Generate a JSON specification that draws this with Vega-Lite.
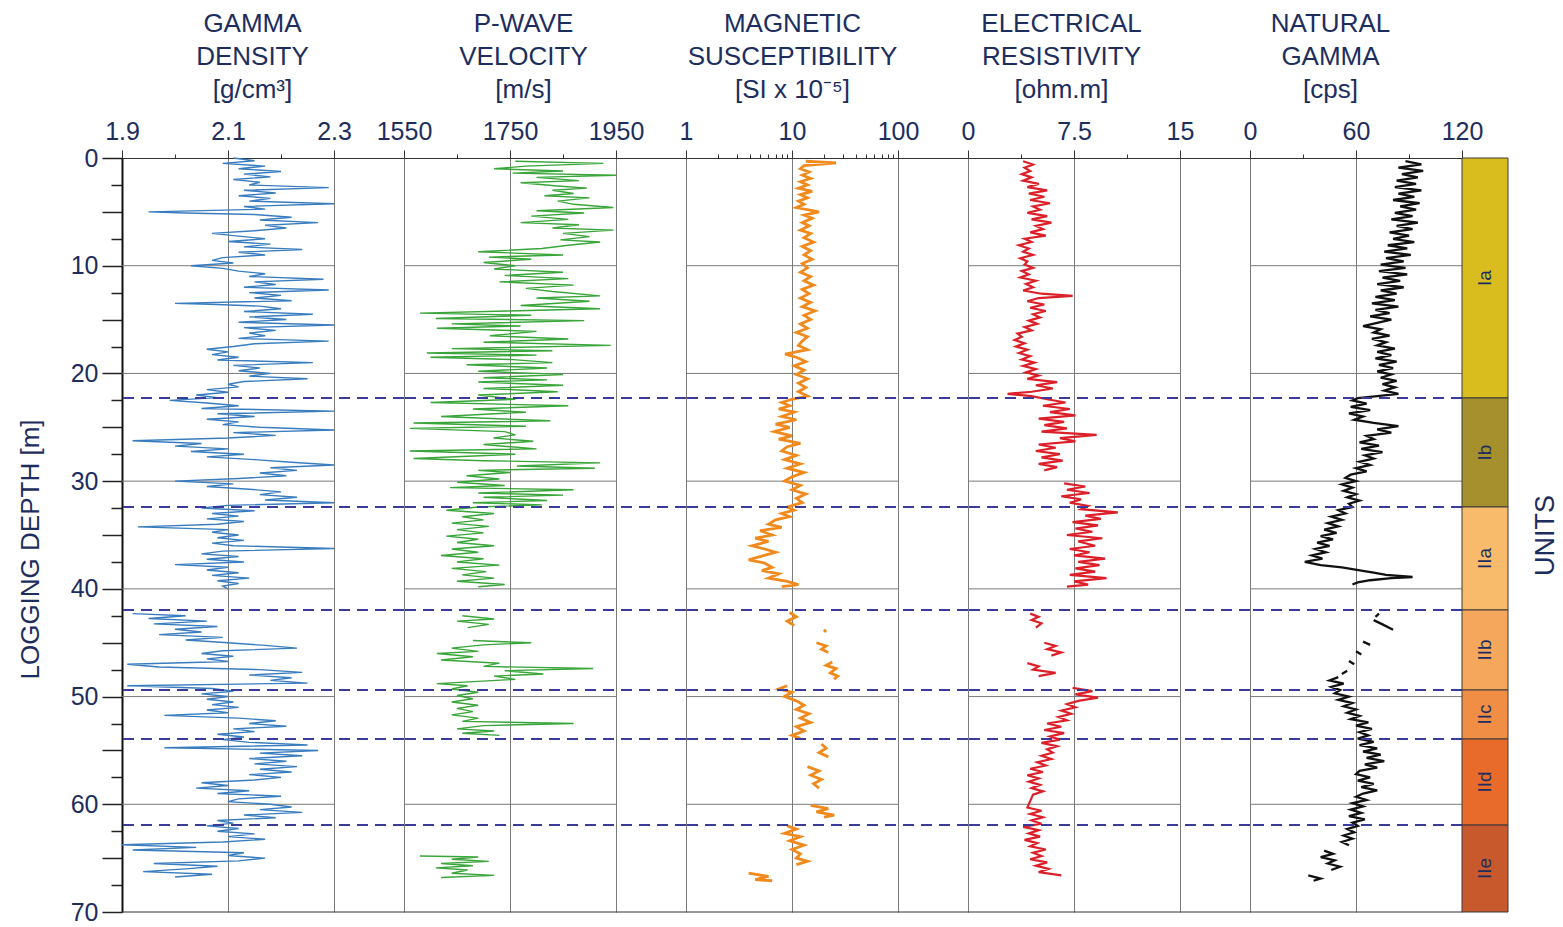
{
"$schema": "https://vega.github.io/schema/vega-lite/v6.json",
"background": "#ffffff",
"padding": {"left": 17, "top": 10, "right": 5, "bottom": 5},
"bounds": "flush",
"spacing": 0,
"config": {"view": {"stroke": null}, "font": "Liberation Sans", "axis": {"labelFont": "Liberation Sans", "titleFont": "Liberation Sans"}},
"resolve": {"scale": {"x": "independent", "y": "independent"}, "axis": {"x": "independent", "y": "independent"}},
"datasets": {
"grid": [{"d":10},{"d":20},{"d":30},{"d":40},{"d":50},{"d":60}],
"edge": [{"d":70}],
"bounds": [{"d":22.28},{"d":32.4},{"d":41.96},{"d":49.39},{"d":53.94},{"d":61.93}],
"units": [{"u":"Ia","t":0,"b":22.28},{"u":"Ib","t":22.28,"b":32.4},{"u":"IIa","t":32.4,"b":41.96},{"u":"IIb","t":41.96,"b":49.39},{"u":"IIc","t":49.39,"b":53.94},{"u":"IId","t":53.94,"b":61.93},{"u":"IIe","t":61.93,"b":70}],
"gd": [
{"d":0,"v":2.11,"s":1},{"d":0.25,"v":2.15,"s":1},{"d":0.5,"v":2.09,"s":1},{"d":0.75,"v":2.17,"s":1},{"d":1,"v":2.12,"s":1},{"d":1.25,"v":2.2,"s":1},{"d":1.5,"v":2.13,"s":1},{"d":1.75,"v":2.18,"s":1},{"d":2,"v":2.11,"s":1},{"d":2.25,"v":2.16,"s":1},{"d":2.5,"v":2.14,"s":1},{"d":2.75,"v":2.29,"s":1},{"d":3,"v":2.13,"s":1},{"d":3.25,"v":2.19,"s":1},{"d":3.5,"v":2.12,"s":1},{"d":3.75,"v":2.18,"s":1},{"d":4,"v":2.14,"s":1},{"d":4.25,"v":2.3,"s":1},{"d":4.5,"v":2.13,"s":1},{"d":4.75,"v":2.17,"s":1},{"d":5,"v":1.95,"s":1},{"d":5.1,"v":2.02,"s":1},{"d":5.25,"v":2.15,"s":1},{"d":5.5,"v":2.22,"s":1},{"d":5.75,"v":2.16,"s":1},{"d":6,"v":2.27,"s":1},{"d":6.25,"v":2.17,"s":1},{"d":6.5,"v":2.21,"s":1},{"d":6.75,"v":2.15,"s":1},{"d":7,"v":2.07,"s":1},{"d":7.25,"v":2.12,"s":1},{"d":7.5,"v":2.17,"s":1},{"d":7.75,"v":2.1,"s":1},{"d":8,"v":2.18,"s":1},{"d":8.25,"v":2.13,"s":1},{"d":8.5,"v":2.24,"s":1},{"d":8.75,"v":2.12,"s":1},{"d":9,"v":2.17,"s":1},{"d":9.25,"v":2.09,"s":1},{"d":9.5,"v":2.07,"s":1},{"d":9.75,"v":2.11,"s":1},{"d":10,"v":2.03,"s":1},{"d":10.25,"v":2.09,"s":1},{"d":10.5,"v":2.12,"s":1},{"d":10.75,"v":2.17,"s":1},{"d":11,"v":2.14,"s":1},{"d":11.25,"v":2.28,"s":1},{"d":11.5,"v":2.15,"s":1},{"d":11.75,"v":2.19,"s":1},{"d":12,"v":2.13,"s":1},{"d":12.25,"v":2.29,"s":1},{"d":12.5,"v":2.14,"s":1},{"d":12.75,"v":2.2,"s":1},{"d":13,"v":2.15,"s":1},{"d":13.25,"v":2.22,"s":1},{"d":13.5,"v":2.0,"s":1},{"d":13.6,"v":2.08,"s":1},{"d":13.75,"v":2.16,"s":1},{"d":14,"v":2.2,"s":1},{"d":14.25,"v":2.13,"s":1},{"d":14.5,"v":2.26,"s":1},{"d":14.75,"v":2.14,"s":1},{"d":15,"v":2.21,"s":1},{"d":15.25,"v":2.12,"s":1},{"d":15.5,"v":2.3,"s":1},{"d":15.75,"v":2.13,"s":1},{"d":16,"v":2.19,"s":1},{"d":16.25,"v":2.14,"s":1},{"d":16.5,"v":2.17,"s":1},{"d":16.75,"v":2.12,"s":1},{"d":17,"v":2.29,"s":1},{"d":17.25,"v":2.15,"s":1},{"d":17.5,"v":2.11,"s":1},{"d":17.75,"v":2.06,"s":1},{"d":18,"v":2.1,"s":1},{"d":18.25,"v":2.07,"s":1},{"d":18.5,"v":2.12,"s":1},{"d":18.75,"v":2.08,"s":1},{"d":19,"v":2.26,"s":1},{"d":19.25,"v":2.11,"s":1},{"d":19.5,"v":2.16,"s":1},{"d":19.75,"v":2.12,"s":1},{"d":20,"v":2.18,"s":1},{"d":20.25,"v":2.14,"s":1},{"d":20.5,"v":2.25,"s":1},{"d":20.75,"v":2.13,"s":1},{"d":21,"v":2.1,"s":1},{"d":21.25,"v":2.12,"s":1},{"d":21.5,"v":2.06,"s":1},{"d":21.75,"v":2.1,"s":1},{"d":22,"v":2.04,"s":1},{"d":22.25,"v":2.08,"s":1},{"d":22.5,"v":1.99,"s":1},{"d":22.75,"v":2.06,"s":1},{"d":23,"v":2.12,"s":1},{"d":23.25,"v":2.05,"s":1},{"d":23.5,"v":2.3,"s":1},{"d":23.75,"v":2.08,"s":1},{"d":24,"v":2.15,"s":1},{"d":24.25,"v":2.06,"s":1},{"d":24.5,"v":2.12,"s":1},{"d":24.75,"v":2.09,"s":1},{"d":25,"v":2.16,"s":1},{"d":25.25,"v":2.3,"s":1},{"d":25.5,"v":2.11,"s":1},{"d":25.75,"v":2.19,"s":1},{"d":26,"v":2.1,"s":1},{"d":26.25,"v":1.92,"s":1},{"d":26.5,"v":2.05,"s":1},{"d":26.75,"v":2.0,"s":1},{"d":27,"v":2.1,"s":1},{"d":27.25,"v":2.03,"s":1},{"d":27.5,"v":2.13,"s":1},{"d":27.75,"v":2.06,"s":1},{"d":28,"v":2.15,"s":1},{"d":28.25,"v":2.22,"s":1},{"d":28.5,"v":2.3,"s":1},{"d":28.75,"v":2.18,"s":1},{"d":29,"v":2.23,"s":1},{"d":29.25,"v":2.16,"s":1},{"d":29.5,"v":2.21,"s":1},{"d":29.75,"v":2.12,"s":1},{"d":30,"v":2.0,"s":1},{"d":30.25,"v":2.11,"s":1},{"d":30.5,"v":2.06,"s":1},{"d":30.75,"v":2.14,"s":1},{"d":31,"v":2.2,"s":1},{"d":31.25,"v":2.16,"s":1},{"d":31.5,"v":2.23,"s":1},{"d":31.75,"v":2.17,"s":1},{"d":32,"v":2.3,"s":1},{"d":32.25,"v":2.1,"s":1},{"d":32.5,"v":2.05,"s":1},{"d":32.75,"v":2.15,"s":1},{"d":33,"v":2.07,"s":1},{"d":33.25,"v":2.12,"s":1},{"d":33.5,"v":2.06,"s":1},{"d":33.75,"v":2.13,"s":1},{"d":34,"v":2.08,"s":1},{"d":34.25,"v":1.93,"s":1},{"d":34.5,"v":2.1,"s":1},{"d":34.75,"v":2.07,"s":1},{"d":35,"v":2.12,"s":1},{"d":35.25,"v":2.08,"s":1},{"d":35.5,"v":2.13,"s":1},{"d":35.75,"v":2.07,"s":1},{"d":36,"v":2.11,"s":1},{"d":36.25,"v":2.3,"s":1},{"d":36.5,"v":2.09,"s":1},{"d":36.75,"v":2.05,"s":1},{"d":37,"v":2.12,"s":1},{"d":37.25,"v":2.06,"s":1},{"d":37.5,"v":2.13,"s":1},{"d":37.75,"v":2.0,"s":1},{"d":38,"v":2.1,"s":1},{"d":38.25,"v":2.06,"s":1},{"d":38.5,"v":2.12,"s":1},{"d":38.75,"v":2.07,"s":1},{"d":39,"v":2.14,"s":1},{"d":39.25,"v":2.08,"s":1},{"d":39.5,"v":2.12,"s":1},{"d":39.75,"v":2.09,"s":1},{"d":40,"v":2.1,"s":1},
{"d":42.3,"v":1.92,"s":2},{"d":42.5,"v":2.02,"s":2},{"d":42.75,"v":1.95,"s":2},{"d":43,"v":2.06,"s":2},{"d":43.25,"v":1.96,"s":2},{"d":43.5,"v":2.08,"s":2},{"d":43.75,"v":2.0,"s":2},{"d":44,"v":2.05,"s":2},{"d":44.25,"v":1.97,"s":2},{"d":44.5,"v":2.09,"s":2},{"d":44.75,"v":2.02,"s":2},{"d":45,"v":2.1,"s":2},{"d":45.25,"v":2.17,"s":2},{"d":45.5,"v":2.23,"s":2},{"d":45.75,"v":2.09,"s":2},{"d":46,"v":2.05,"s":2},{"d":46.25,"v":2.11,"s":2},{"d":46.5,"v":2.06,"s":2},{"d":46.75,"v":2.1,"s":2},{"d":47,"v":1.91,"s":2},{"d":47.25,"v":1.97,"s":2},{"d":47.5,"v":2.16,"s":2},{"d":47.75,"v":2.24,"s":2},{"d":48,"v":2.14,"s":2},{"d":48.25,"v":2.22,"s":2},{"d":48.5,"v":2.18,"s":2},{"d":48.75,"v":2.25,"s":2},{"d":49,"v":1.91,"s":2},{"d":49.25,"v":2.07,"s":2},{"d":49.5,"v":2.11,"s":2},{"d":49.75,"v":2.05,"s":2},{"d":50,"v":2.1,"s":2},{"d":50.25,"v":2.06,"s":2},{"d":50.5,"v":2.11,"s":2},{"d":50.75,"v":2.07,"s":2},{"d":51,"v":2.12,"s":2},{"d":51.25,"v":2.06,"s":2},{"d":51.5,"v":2.1,"s":2},{"d":51.75,"v":1.98,"s":2},{"d":52,"v":2.12,"s":2},{"d":52.25,"v":2.19,"s":2},{"d":52.5,"v":2.14,"s":2},{"d":52.75,"v":2.21,"s":2},{"d":53,"v":2.11,"s":2},{"d":53.25,"v":2.15,"s":2},{"d":53.5,"v":2.08,"s":2},{"d":53.75,"v":2.13,"s":2},{"d":54,"v":2.09,"s":2},{"d":54.25,"v":2.14,"s":2},{"d":54.5,"v":2.25,"s":2},{"d":54.75,"v":1.98,"s":2},{"d":55,"v":2.27,"s":2},{"d":55.25,"v":2.16,"s":2},{"d":55.5,"v":2.24,"s":2},{"d":55.75,"v":2.14,"s":2},{"d":56,"v":2.21,"s":2},{"d":56.25,"v":2.15,"s":2},{"d":56.5,"v":2.23,"s":2},{"d":56.75,"v":2.16,"s":2},{"d":57,"v":2.22,"s":2},{"d":57.25,"v":2.14,"s":2},{"d":57.5,"v":2.2,"s":2},{"d":57.75,"v":2.15,"s":2},{"d":58,"v":2.05,"s":2},{"d":58.25,"v":2.1,"s":2},{"d":58.5,"v":2.04,"s":2},{"d":58.75,"v":2.14,"s":2},{"d":59,"v":2.08,"s":2},{"d":59.25,"v":2.2,"s":2},{"d":59.5,"v":2.12,"s":2},{"d":59.75,"v":2.1,"s":2},{"d":60,"v":2.18,"s":2},{"d":60.25,"v":2.22,"s":2},{"d":60.5,"v":2.16,"s":2},{"d":60.75,"v":2.24,"s":2},{"d":61,"v":2.13,"s":2},{"d":61.25,"v":2.19,"s":2},{"d":61.5,"v":2.08,"s":2},{"d":61.75,"v":2.11,"s":2},{"d":62,"v":2.06,"s":2},{"d":62.25,"v":2.12,"s":2},{"d":62.5,"v":2.08,"s":2},{"d":62.75,"v":2.15,"s":2},{"d":63,"v":2.1,"s":2},{"d":63.25,"v":2.17,"s":2},{"d":63.5,"v":2.09,"s":2},{"d":63.75,"v":1.9,"s":2},{"d":64,"v":2.04,"s":2},{"d":64.25,"v":1.92,"s":2},{"d":64.5,"v":2.13,"s":2},{"d":64.75,"v":2.1,"s":2},{"d":65,"v":2.17,"s":2},{"d":65.25,"v":2.12,"s":2},{"d":65.5,"v":1.96,"s":2},{"d":65.75,"v":2.08,"s":2},{"d":66,"v":2.02,"s":2},{"d":66.25,"v":1.94,"s":2},{"d":66.5,"v":2.07,"s":2},{"d":66.75,"v":2.0,"s":2}
],
"pw": [
{"d":0.3,"v":1760,"s":1},{"d":0.5,"v":1926,"s":1},{"d":0.75,"v":1780,"s":1},{"d":1.0,"v":1720,"s":1},{"d":1.2,"v":1850,"s":1},{"d":1.4,"v":1755,"s":1},{"d":1.6,"v":1950,"s":1},{"d":1.8,"v":1800,"s":1},{"d":2.1,"v":1880,"s":1},{"d":2.3,"v":1770,"s":1},{"d":2.6,"v":1840,"s":1},{"d":2.8,"v":1895,"s":1},{"d":3.0,"v":1830,"s":1},{"d":3.3,"v":1870,"s":1},{"d":3.5,"v":1815,"s":1},{"d":3.7,"v":1900,"s":1},{"d":4.0,"v":1840,"s":1},{"d":4.3,"v":1870,"s":1},{"d":4.6,"v":1945,"s":1},{"d":4.9,"v":1800,"s":1},{"d":5.1,"v":1890,"s":1},{"d":5.4,"v":1790,"s":1},{"d":5.7,"v":1860,"s":1},{"d":6.0,"v":1770,"s":1},{"d":6.2,"v":1880,"s":1},{"d":6.5,"v":1830,"s":1},{"d":6.7,"v":1945,"s":1},{"d":7.0,"v":1850,"s":1},{"d":7.3,"v":1900,"s":1},{"d":7.6,"v":1845,"s":1},{"d":7.8,"v":1920,"s":1},{"d":8.1,"v":1860,"s":1},{"d":8.4,"v":1810,"s":1},{"d":8.7,"v":1690,"s":1},{"d":9.0,"v":1850,"s":1},{"d":9.2,"v":1710,"s":1},{"d":9.4,"v":1790,"s":1},{"d":9.7,"v":1700,"s":1},{"d":10.0,"v":1760,"s":1},{"d":10.3,"v":1720,"s":1},{"d":10.6,"v":1850,"s":1},{"d":10.9,"v":1740,"s":1},{"d":11.2,"v":1860,"s":1},{"d":11.5,"v":1730,"s":1},{"d":11.8,"v":1870,"s":1},{"d":12.1,"v":1780,"s":1},{"d":12.4,"v":1830,"s":1},{"d":12.8,"v":1920,"s":1},{"d":13.0,"v":1800,"s":1},{"d":13.3,"v":1900,"s":1},{"d":13.7,"v":1770,"s":1},{"d":14.0,"v":1920,"s":1},{"d":14.2,"v":1745,"s":1},{"d":14.4,"v":1580,"s":1},{"d":14.6,"v":1790,"s":1},{"d":14.9,"v":1610,"s":1},{"d":15.1,"v":1890,"s":1},{"d":15.4,"v":1640,"s":1},{"d":15.6,"v":1770,"s":1},{"d":15.8,"v":1612,"s":1},{"d":16.1,"v":1800,"s":1},{"d":16.5,"v":1712,"s":1},{"d":16.8,"v":1860,"s":1},{"d":17.1,"v":1700,"s":1},{"d":17.4,"v":1940,"s":1},{"d":17.7,"v":1640,"s":1},{"d":17.9,"v":1830,"s":1},{"d":18.1,"v":1593,"s":1},{"d":18.3,"v":1800,"s":1},{"d":18.5,"v":1600,"s":1},{"d":18.7,"v":1750,"s":1},{"d":19.0,"v":1830,"s":1},{"d":19.2,"v":1668,"s":1},{"d":19.5,"v":1820,"s":1},{"d":19.8,"v":1690,"s":1},{"d":20.1,"v":1850,"s":1},{"d":20.4,"v":1700,"s":1},{"d":20.6,"v":1820,"s":1},{"d":20.8,"v":1690,"s":1},{"d":21.1,"v":1850,"s":1},{"d":21.4,"v":1700,"s":1},{"d":21.7,"v":1840,"s":1},{"d":22.0,"v":1690,"s":1},{"d":22.4,"v":1760,"s":1},{"d":22.7,"v":1600,"s":1},{"d":23.0,"v":1860,"s":1},{"d":23.3,"v":1680,"s":1},{"d":23.6,"v":1780,"s":1},{"d":24.0,"v":1620,"s":1},{"d":24.4,"v":1826,"s":1},{"d":24.6,"v":1568,"s":1},{"d":24.9,"v":1780,"s":1},{"d":25.1,"v":1561,"s":1},{"d":25.4,"v":1740,"s":1},{"d":25.7,"v":1760,"s":1},{"d":26.0,"v":1719,"s":1},{"d":26.3,"v":1794,"s":1},{"d":26.6,"v":1700,"s":1},{"d":27.0,"v":1800,"s":1},{"d":27.2,"v":1561,"s":1},{"d":27.5,"v":1760,"s":1},{"d":27.9,"v":1568,"s":1},{"d":28.1,"v":1700,"s":1},{"d":28.3,"v":1920,"s":1},{"d":28.6,"v":1763,"s":1},{"d":28.8,"v":1910,"s":1},{"d":29.0,"v":1690,"s":1},{"d":29.2,"v":1750,"s":1},{"d":29.5,"v":1668,"s":1},{"d":29.8,"v":1730,"s":1},{"d":30.1,"v":1650,"s":1},{"d":30.4,"v":1740,"s":1},{"d":30.6,"v":1637,"s":1},{"d":30.8,"v":1870,"s":1},{"d":31.1,"v":1690,"s":1},{"d":31.3,"v":1850,"s":1},{"d":31.5,"v":1700,"s":1},{"d":31.8,"v":1820,"s":1},{"d":32.0,"v":1680,"s":1},{"d":32.2,"v":1810,"s":1},{"d":32.4,"v":1690,"s":1},{"d":32.7,"v":1630,"s":1},{"d":33.0,"v":1720,"s":1},{"d":33.3,"v":1660,"s":1},{"d":33.6,"v":1700,"s":1},{"d":33.9,"v":1640,"s":1},{"d":34.2,"v":1710,"s":1},{"d":34.5,"v":1650,"s":1},{"d":34.8,"v":1700,"s":1},{"d":35.1,"v":1630,"s":1},{"d":35.4,"v":1690,"s":1},{"d":35.7,"v":1650,"s":1},{"d":36.0,"v":1720,"s":1},{"d":36.3,"v":1640,"s":1},{"d":36.6,"v":1690,"s":1},{"d":36.9,"v":1620,"s":1},{"d":37.2,"v":1700,"s":1},{"d":37.5,"v":1650,"s":1},{"d":37.8,"v":1730,"s":1},{"d":38.1,"v":1640,"s":1},{"d":38.4,"v":1705,"s":1},{"d":38.7,"v":1660,"s":1},{"d":39.0,"v":1720,"s":1},{"d":39.3,"v":1650,"s":1},{"d":39.6,"v":1740,"s":1},{"d":39.8,"v":1690,"s":1},
{"d":42.5,"v":1660,"s":2},{"d":42.8,"v":1720,"s":2},{"d":43.0,"v":1650,"s":2},{"d":43.3,"v":1710,"s":2},{"d":43.6,"v":1670,"s":2},
{"d":44.8,"v":1680,"s":3},{"d":45.0,"v":1790,"s":3},{"d":45.2,"v":1700,"s":3},{"d":45.5,"v":1640,"s":3},{"d":45.8,"v":1690,"s":3},{"d":46.0,"v":1612,"s":3},{"d":46.3,"v":1680,"s":3},{"d":46.6,"v":1620,"s":3},{"d":46.9,"v":1730,"s":3},{"d":47.2,"v":1700,"s":3},{"d":47.4,"v":1907,"s":3},{"d":47.6,"v":1740,"s":3},{"d":47.9,"v":1813,"s":3},{"d":48.1,"v":1720,"s":3},{"d":48.4,"v":1760,"s":3},{"d":48.8,"v":1612,"s":3},{"d":49.0,"v":1670,"s":3},{"d":49.3,"v":1640,"s":3},{"d":49.6,"v":1690,"s":3},{"d":49.9,"v":1650,"s":3},{"d":50.2,"v":1680,"s":3},{"d":50.5,"v":1640,"s":3},{"d":50.8,"v":1690,"s":3},{"d":51.1,"v":1650,"s":3},{"d":51.4,"v":1680,"s":3},{"d":51.7,"v":1640,"s":3},{"d":52.0,"v":1690,"s":3},{"d":52.3,"v":1660,"s":3},{"d":52.5,"v":1870,"s":3},{"d":52.7,"v":1700,"s":3},{"d":53.0,"v":1650,"s":3},{"d":53.2,"v":1720,"s":3},{"d":53.4,"v":1660,"s":3},{"d":53.6,"v":1730,"s":3},
{"d":64.8,"v":1580,"s":4},{"d":64.9,"v":1690,"s":4},{"d":65.1,"v":1640,"s":4},{"d":65.3,"v":1710,"s":4},{"d":65.5,"v":1620,"s":4},{"d":65.7,"v":1680,"s":4},{"d":65.9,"v":1610,"s":4},{"d":66.1,"v":1670,"s":4},{"d":66.4,"v":1640,"s":4},{"d":66.6,"v":1720,"s":4},{"d":66.8,"v":1620,"s":4}
],
"ms": [
{"d":0.3,"v":13.5,"s":1},{"d":0.45,"v":26,"s":1},{"d":0.7,"v":13,"s":1},{"d":1.0,"v":12,"s":1},{"d":1.3,"v":14.5,"s":1},{"d":1.6,"v":12.5,"s":1},{"d":1.9,"v":15,"s":1},{"d":2.2,"v":12,"s":1},{"d":2.5,"v":14,"s":1},{"d":2.8,"v":11.5,"s":1},{"d":3.1,"v":15.5,"s":1},{"d":3.4,"v":12,"s":1},{"d":3.7,"v":14,"s":1},{"d":4.0,"v":11.5,"s":1},{"d":4.3,"v":13,"s":1},{"d":4.6,"v":11,"s":1},{"d":5.0,"v":18,"s":1},{"d":5.3,"v":13,"s":1},{"d":5.6,"v":15.5,"s":1},{"d":6.0,"v":12.5,"s":1},{"d":6.3,"v":14.5,"s":1},{"d":6.7,"v":12,"s":1},{"d":7.0,"v":15,"s":1},{"d":7.4,"v":13,"s":1},{"d":7.8,"v":16,"s":1},{"d":8.2,"v":12.5,"s":1},{"d":8.6,"v":15,"s":1},{"d":9.0,"v":13,"s":1},{"d":9.4,"v":15.5,"s":1},{"d":9.8,"v":12.5,"s":1},{"d":10.2,"v":14,"s":1},{"d":10.6,"v":12,"s":1},{"d":11.0,"v":15,"s":1},{"d":11.4,"v":13,"s":1},{"d":11.8,"v":16,"s":1},{"d":12.2,"v":12.5,"s":1},{"d":12.6,"v":14.5,"s":1},{"d":13.0,"v":12,"s":1},{"d":13.4,"v":15,"s":1},{"d":13.8,"v":12.5,"s":1},{"d":14.2,"v":16.5,"s":1},{"d":14.6,"v":13,"s":1},{"d":15.0,"v":15,"s":1},{"d":15.4,"v":12,"s":1},{"d":15.8,"v":14,"s":1},{"d":16.2,"v":11,"s":1},{"d":16.6,"v":14,"s":1},{"d":17.0,"v":12.5,"s":1},{"d":17.4,"v":11.5,"s":1},{"d":17.8,"v":14,"s":1},{"d":18.2,"v":8.6,"s":1},{"d":18.5,"v":11,"s":1},{"d":18.9,"v":13.5,"s":1},{"d":19.3,"v":10.5,"s":1},{"d":19.7,"v":13,"s":1},{"d":20.1,"v":11,"s":1},{"d":20.5,"v":14,"s":1},{"d":20.9,"v":11.5,"s":1},{"d":21.3,"v":13.5,"s":1},{"d":21.7,"v":11.5,"s":1},{"d":22.1,"v":14,"s":1},{"d":22.4,"v":10,"s":1},{"d":22.7,"v":8,"s":1},{"d":23.0,"v":9.5,"s":1},{"d":23.3,"v":7.5,"s":1},{"d":23.6,"v":10.5,"s":1},{"d":24.0,"v":8,"s":1},{"d":24.3,"v":11,"s":1},{"d":24.7,"v":7,"s":1},{"d":25.0,"v":9.5,"s":1},{"d":25.4,"v":6.8,"s":1},{"d":25.8,"v":10,"s":1},{"d":26.1,"v":7.5,"s":1},{"d":26.5,"v":12,"s":1},{"d":26.8,"v":9,"s":1},{"d":27.2,"v":8,"s":1},{"d":27.6,"v":11,"s":1},{"d":28.0,"v":8.5,"s":1},{"d":28.4,"v":12,"s":1},{"d":28.8,"v":9,"s":1},{"d":29.2,"v":13,"s":1},{"d":29.6,"v":10,"s":1},{"d":30.0,"v":8.5,"s":1},{"d":30.4,"v":12,"s":1},{"d":30.8,"v":10,"s":1},{"d":31.2,"v":13.5,"s":1},{"d":31.6,"v":11,"s":1},{"d":32.0,"v":12.5,"s":1},{"d":32.4,"v":9,"s":1},{"d":32.7,"v":10.5,"s":1},{"d":33.0,"v":8,"s":1},{"d":33.3,"v":9.5,"s":1},{"d":33.6,"v":7,"s":1},{"d":34.0,"v":6,"s":1},{"d":34.3,"v":8,"s":1},{"d":34.6,"v":5,"s":1},{"d":35.0,"v":6.5,"s":1},{"d":35.3,"v":4.5,"s":1},{"d":35.6,"v":6,"s":1},{"d":36.0,"v":4.2,"s":1},{"d":36.3,"v":5.5,"s":1},{"d":36.6,"v":7,"s":1},{"d":37.0,"v":5,"s":1},{"d":37.3,"v":3.9,"s":1},{"d":37.6,"v":5.5,"s":1},{"d":38.0,"v":6.5,"s":1},{"d":38.3,"v":5.2,"s":1},{"d":38.6,"v":7.5,"s":1},{"d":39.0,"v":6,"s":1},{"d":39.3,"v":9,"s":1},{"d":39.6,"v":11.5,"s":1},{"d":39.8,"v":8,"s":1},
{"d":42.2,"v":9.5,"s":2},{"d":42.6,"v":11,"s":2},{"d":43.0,"v":9,"s":2},{"d":43.4,"v":10.5,"s":2},
{"d":43.8,"v":20,"s":3},{"d":44.0,"v":21,"s":3},
{"d":45.0,"v":17,"s":4},{"d":45.3,"v":21,"s":4},{"d":45.6,"v":19,"s":4},{"d":45.9,"v":22,"s":4},
{"d":46.8,"v":24,"s":5},{"d":47.1,"v":21,"s":5},{"d":47.4,"v":26,"s":5},{"d":47.8,"v":23,"s":5},{"d":48.1,"v":27,"s":5},{"d":48.4,"v":25,"s":5},
{"d":49.0,"v":9,"s":6},{"d":49.3,"v":7.5,"s":6},{"d":49.6,"v":10,"s":6},{"d":50.0,"v":8.5,"s":6},{"d":50.4,"v":11,"s":6},{"d":50.8,"v":13,"s":6},{"d":51.2,"v":11,"s":6},{"d":51.6,"v":14.5,"s":6},{"d":52.0,"v":12,"s":6},{"d":52.4,"v":15,"s":6},{"d":52.8,"v":11,"s":6},{"d":53.2,"v":13,"s":6},{"d":53.6,"v":10,"s":6},{"d":53.9,"v":12,"s":6},
{"d":54.4,"v":19,"s":7},{"d":54.8,"v":21,"s":7},{"d":55.2,"v":18,"s":7},{"d":55.6,"v":22,"s":7},
{"d":56.5,"v":14,"s":8},{"d":56.9,"v":18,"s":8},{"d":57.3,"v":15,"s":8},{"d":57.7,"v":19,"s":8},{"d":58.1,"v":16,"s":8},{"d":58.5,"v":18,"s":8},
{"d":60.1,"v":15,"s":9},{"d":60.4,"v":22,"s":9},{"d":60.7,"v":17,"s":9},{"d":61.0,"v":25,"s":9},{"d":61.2,"v":20,"s":9},
{"d":62.0,"v":9,"s":10},{"d":62.3,"v":11,"s":10},{"d":62.7,"v":8.5,"s":10},{"d":63.0,"v":12,"s":10},{"d":63.4,"v":9.5,"s":10},{"d":63.8,"v":13,"s":10},{"d":64.2,"v":10,"s":10},{"d":64.6,"v":12,"s":10},{"d":65.0,"v":11,"s":10},{"d":65.3,"v":14,"s":10},{"d":65.6,"v":11,"s":10},
{"d":66.4,"v":3.9,"s":11},{"d":66.7,"v":6,"s":11},{"d":67.0,"v":4.5,"s":11},{"d":67.1,"v":6.5,"s":11}
],
"er": [
{"d":0.3,"v":3.9,"s":1},{"d":0.6,"v":4.6,"s":1},{"d":0.9,"v":4.0,"s":1},{"d":1.2,"v":4.4,"s":1},{"d":1.5,"v":3.8,"s":1},{"d":1.8,"v":4.5,"s":1},{"d":2.1,"v":3.9,"s":1},{"d":2.4,"v":5.0,"s":1},{"d":2.7,"v":4.2,"s":1},{"d":3.0,"v":5.6,"s":1},{"d":3.3,"v":4.3,"s":1},{"d":3.6,"v":5.4,"s":1},{"d":3.9,"v":4.4,"s":1},{"d":4.2,"v":5.8,"s":1},{"d":4.5,"v":4.6,"s":1},{"d":4.8,"v":5.1,"s":1},{"d":5.1,"v":4.2,"s":1},{"d":5.4,"v":5.6,"s":1},{"d":5.7,"v":4.5,"s":1},{"d":6.0,"v":5.9,"s":1},{"d":6.3,"v":4.8,"s":1},{"d":6.6,"v":5.3,"s":1},{"d":6.9,"v":4.4,"s":1},{"d":7.2,"v":5.5,"s":1},{"d":7.5,"v":4.0,"s":1},{"d":7.8,"v":4.5,"s":1},{"d":8.1,"v":3.6,"s":1},{"d":8.4,"v":4.3,"s":1},{"d":8.7,"v":3.9,"s":1},{"d":9.0,"v":4.6,"s":1},{"d":9.3,"v":3.7,"s":1},{"d":9.6,"v":4.2,"s":1},{"d":9.9,"v":4.0,"s":1},{"d":10.2,"v":4.6,"s":1},{"d":10.5,"v":3.8,"s":1},{"d":10.8,"v":4.3,"s":1},{"d":11.1,"v":3.7,"s":1},{"d":11.4,"v":4.8,"s":1},{"d":11.7,"v":4.1,"s":1},{"d":12.0,"v":4.6,"s":1},{"d":12.3,"v":3.9,"s":1},{"d":12.6,"v":5.2,"s":1},{"d":12.8,"v":7.4,"s":1},{"d":13.0,"v":5.0,"s":1},{"d":13.3,"v":4.2,"s":1},{"d":13.6,"v":5.4,"s":1},{"d":13.9,"v":4.4,"s":1},{"d":14.2,"v":5.5,"s":1},{"d":14.5,"v":4.6,"s":1},{"d":14.8,"v":5.1,"s":1},{"d":15.1,"v":4.3,"s":1},{"d":15.4,"v":4.9,"s":1},{"d":15.7,"v":4.0,"s":1},{"d":16.0,"v":4.5,"s":1},{"d":16.3,"v":3.5,"s":1},{"d":16.6,"v":3.8,"s":1},{"d":16.9,"v":3.3,"s":1},{"d":17.2,"v":4.0,"s":1},{"d":17.5,"v":3.4,"s":1},{"d":17.8,"v":4.2,"s":1},{"d":18.1,"v":3.6,"s":1},{"d":18.4,"v":4.4,"s":1},{"d":18.7,"v":3.8,"s":1},{"d":19.0,"v":4.7,"s":1},{"d":19.3,"v":3.9,"s":1},{"d":19.6,"v":4.8,"s":1},{"d":19.9,"v":4.1,"s":1},{"d":20.2,"v":5.0,"s":1},{"d":20.5,"v":4.2,"s":1},{"d":20.8,"v":6.3,"s":1},{"d":21.1,"v":4.8,"s":1},{"d":21.4,"v":6.0,"s":1},{"d":21.7,"v":4.5,"s":1},{"d":21.9,"v":2.8,"s":1},{"d":22.1,"v":4.5,"s":1},{"d":22.4,"v":5.6,"s":1},{"d":22.7,"v":6.9,"s":1},{"d":23.0,"v":5.3,"s":1},{"d":23.3,"v":7.2,"s":1},{"d":23.6,"v":5.8,"s":1},{"d":23.9,"v":7.6,"s":1},{"d":24.2,"v":5.0,"s":1},{"d":24.5,"v":6.8,"s":1},{"d":24.8,"v":5.4,"s":1},{"d":25.1,"v":7.0,"s":1},{"d":25.4,"v":5.2,"s":1},{"d":25.7,"v":9.1,"s":1},{"d":26.0,"v":6.5,"s":1},{"d":26.3,"v":7.6,"s":1},{"d":26.6,"v":5.0,"s":1},{"d":26.9,"v":6.2,"s":1},{"d":27.2,"v":4.8,"s":1},{"d":27.5,"v":6.5,"s":1},{"d":27.8,"v":5.2,"s":1},{"d":28.1,"v":6.7,"s":1},{"d":28.4,"v":5.0,"s":1},{"d":28.7,"v":6.3,"s":1},{"d":29.0,"v":5.4,"s":1},
{"d":30.2,"v":6.8,"s":2},{"d":30.5,"v":8.3,"s":2},{"d":30.8,"v":7.0,"s":2},{"d":31.1,"v":8.6,"s":2},{"d":31.4,"v":6.6,"s":2},{"d":31.7,"v":8.0,"s":2},{"d":32.0,"v":7.2,"s":2},{"d":32.3,"v":8.5,"s":2},{"d":32.6,"v":8.0,"s":2},{"d":32.9,"v":10.6,"s":2},{"d":33.2,"v":8.3,"s":2},{"d":33.5,"v":9.4,"s":2},{"d":33.8,"v":7.4,"s":2},{"d":34.1,"v":9.2,"s":2},{"d":34.4,"v":7.6,"s":2},{"d":34.7,"v":8.8,"s":2},{"d":35.0,"v":7.0,"s":2},{"d":35.3,"v":9.5,"s":2},{"d":35.6,"v":7.8,"s":2},{"d":36.0,"v":9.0,"s":2},{"d":36.3,"v":7.2,"s":2},{"d":36.6,"v":8.6,"s":2},{"d":36.9,"v":7.5,"s":2},{"d":37.2,"v":9.7,"s":2},{"d":37.5,"v":7.8,"s":2},{"d":37.8,"v":9.3,"s":2},{"d":38.1,"v":7.6,"s":2},{"d":38.4,"v":9.0,"s":2},{"d":38.7,"v":7.2,"s":2},{"d":39.0,"v":9.8,"s":2},{"d":39.3,"v":7.5,"s":2},{"d":39.6,"v":8.5,"s":2},{"d":39.8,"v":7.0,"s":2},
{"d":42.3,"v":4.4,"s":3},{"d":42.6,"v":5.0,"s":3},{"d":42.9,"v":4.5,"s":3},{"d":43.2,"v":5.2,"s":3},{"d":43.6,"v":4.8,"s":3},
{"d":45.0,"v":5.4,"s":4},{"d":45.3,"v":6.2,"s":4},{"d":45.6,"v":5.6,"s":4},{"d":45.9,"v":6.6,"s":4},{"d":46.2,"v":5.9,"s":4},
{"d":46.9,"v":4.2,"s":5},{"d":47.2,"v":5.0,"s":5},{"d":47.5,"v":4.6,"s":5},{"d":47.8,"v":6.2,"s":5},{"d":48.1,"v":5.0,"s":5},
{"d":49.2,"v":7.4,"s":6},{"d":49.5,"v":8.8,"s":6},{"d":49.8,"v":7.6,"s":6},{"d":50.1,"v":9.2,"s":6},{"d":50.4,"v":7.8,"s":6},{"d":50.7,"v":7.0,"s":6},{"d":51.0,"v":7.6,"s":6},{"d":51.3,"v":6.6,"s":6},{"d":51.6,"v":7.3,"s":6},{"d":51.9,"v":6.4,"s":6},{"d":52.2,"v":7.0,"s":6},{"d":52.5,"v":5.6,"s":6},{"d":52.8,"v":6.6,"s":6},{"d":53.1,"v":5.4,"s":6},{"d":53.4,"v":6.8,"s":6},{"d":53.7,"v":5.8,"s":6},{"d":54.0,"v":6.5,"s":6},{"d":54.3,"v":5.2,"s":6},{"d":54.6,"v":6.3,"s":6},{"d":54.9,"v":5.6,"s":6},{"d":55.2,"v":6.0,"s":6},{"d":55.5,"v":5.2,"s":6},{"d":55.8,"v":5.9,"s":6},{"d":56.1,"v":4.9,"s":6},{"d":56.4,"v":5.5,"s":6},{"d":56.7,"v":4.4,"s":6},{"d":57.0,"v":5.3,"s":6},{"d":57.3,"v":4.2,"s":6},{"d":57.6,"v":5.0,"s":6},{"d":57.9,"v":4.3,"s":6},{"d":58.2,"v":5.1,"s":6},{"d":58.5,"v":4.5,"s":6},{"d":58.8,"v":5.3,"s":6},{"d":59.1,"v":4.6,"s":6},{"d":60.3,"v":4.2,"s":6},{"d":60.6,"v":5.2,"s":6},{"d":60.9,"v":4.4,"s":6},{"d":61.2,"v":5.3,"s":6},{"d":61.5,"v":4.5,"s":6},{"d":61.8,"v":5.2,"s":6},{"d":62.1,"v":3.9,"s":6},{"d":62.4,"v":5.0,"s":6},{"d":62.7,"v":4.3,"s":6},{"d":63.0,"v":5.1,"s":6},{"d":63.3,"v":4.0,"s":6},{"d":63.6,"v":4.9,"s":6},{"d":63.9,"v":4.4,"s":6},{"d":64.2,"v":5.5,"s":6},{"d":64.5,"v":4.6,"s":6},{"d":64.8,"v":5.2,"s":6},{"d":65.1,"v":4.4,"s":6},{"d":65.4,"v":5.6,"s":6},{"d":65.7,"v":4.8,"s":6},{"d":66.0,"v":5.7,"s":6},{"d":66.3,"v":5.0,"s":6},{"d":66.6,"v":6.6,"s":6}
],
"ng": [
{"d":0.3,"v":88,"s":1},{"d":0.6,"v":97,"s":1},{"d":0.9,"v":84,"s":1},{"d":1.2,"v":98,"s":1},{"d":1.5,"v":86,"s":1},{"d":1.8,"v":95,"s":1},{"d":2.1,"v":83,"s":1},{"d":2.4,"v":94,"s":1},{"d":2.7,"v":82,"s":1},{"d":3.0,"v":97,"s":1},{"d":3.3,"v":84,"s":1},{"d":3.6,"v":93,"s":1},{"d":3.9,"v":81,"s":1},{"d":4.2,"v":96,"s":1},{"d":4.5,"v":85,"s":1},{"d":4.8,"v":94,"s":1},{"d":5.1,"v":82,"s":1},{"d":5.4,"v":92,"s":1},{"d":5.7,"v":80,"s":1},{"d":6.0,"v":95,"s":1},{"d":6.3,"v":83,"s":1},{"d":6.6,"v":92,"s":1},{"d":6.9,"v":79,"s":1},{"d":7.2,"v":90,"s":1},{"d":7.5,"v":81,"s":1},{"d":7.8,"v":93,"s":1},{"d":8.1,"v":78,"s":1},{"d":8.4,"v":89,"s":1},{"d":8.7,"v":76,"s":1},{"d":9.0,"v":91,"s":1},{"d":9.3,"v":77,"s":1},{"d":9.6,"v":87,"s":1},{"d":9.9,"v":74,"s":1},{"d":10.2,"v":88,"s":1},{"d":10.5,"v":73,"s":1},{"d":10.8,"v":89,"s":1},{"d":11.1,"v":75,"s":1},{"d":11.4,"v":85,"s":1},{"d":11.7,"v":72,"s":1},{"d":12.0,"v":87,"s":1},{"d":12.3,"v":74,"s":1},{"d":12.6,"v":83,"s":1},{"d":12.9,"v":71,"s":1},{"d":13.2,"v":82,"s":1},{"d":13.5,"v":69,"s":1},{"d":13.8,"v":84,"s":1},{"d":14.1,"v":71,"s":1},{"d":14.4,"v":79,"s":1},{"d":14.7,"v":68,"s":1},{"d":15.0,"v":80,"s":1},{"d":15.3,"v":72,"s":1},{"d":15.6,"v":64,"s":1},{"d":15.9,"v":74,"s":1},{"d":16.2,"v":70,"s":1},{"d":16.5,"v":79,"s":1},{"d":16.8,"v":69,"s":1},{"d":17.1,"v":77,"s":1},{"d":17.4,"v":72,"s":1},{"d":17.7,"v":82,"s":1},{"d":18.0,"v":72,"s":1},{"d":18.3,"v":80,"s":1},{"d":18.6,"v":71,"s":1},{"d":18.9,"v":83,"s":1},{"d":19.2,"v":73,"s":1},{"d":19.5,"v":81,"s":1},{"d":19.8,"v":72,"s":1},{"d":20.1,"v":80,"s":1},{"d":20.4,"v":74,"s":1},{"d":20.7,"v":83,"s":1},{"d":21.0,"v":75,"s":1},{"d":21.3,"v":82,"s":1},{"d":21.6,"v":76,"s":1},{"d":21.9,"v":84,"s":1},{"d":22.1,"v":72,"s":1},{"d":22.3,"v":61,"s":1},{"d":22.5,"v":58,"s":1},{"d":22.8,"v":66,"s":1},{"d":23.1,"v":57,"s":1},{"d":23.4,"v":68,"s":1},{"d":23.7,"v":56,"s":1},{"d":24.0,"v":64,"s":1},{"d":24.3,"v":59,"s":1},{"d":24.6,"v":70,"s":1},{"d":24.9,"v":84,"s":1},{"d":25.2,"v":72,"s":1},{"d":25.5,"v":80,"s":1},{"d":25.8,"v":66,"s":1},{"d":26.1,"v":70,"s":1},{"d":26.4,"v":62,"s":1},{"d":26.7,"v":73,"s":1},{"d":27.0,"v":63,"s":1},{"d":27.3,"v":75,"s":1},{"d":27.6,"v":65,"s":1},{"d":27.9,"v":70,"s":1},{"d":28.2,"v":62,"s":1},{"d":28.5,"v":68,"s":1},{"d":28.8,"v":60,"s":1},{"d":29.1,"v":66,"s":1},{"d":29.4,"v":57,"s":1},{"d":29.7,"v":54,"s":1},{"d":30.0,"v":60,"s":1},{"d":30.3,"v":52,"s":1},{"d":30.6,"v":58,"s":1},{"d":30.9,"v":53,"s":1},{"d":31.2,"v":60,"s":1},{"d":31.5,"v":55,"s":1},{"d":31.8,"v":62,"s":1},{"d":32.1,"v":56,"s":1},{"d":32.4,"v":58,"s":1},{"d":32.7,"v":50,"s":1},{"d":33.0,"v":54,"s":1},{"d":33.3,"v":46,"s":1},{"d":33.6,"v":52,"s":1},{"d":33.9,"v":44,"s":1},{"d":34.2,"v":50,"s":1},{"d":34.5,"v":42,"s":1},{"d":34.8,"v":49,"s":1},{"d":35.1,"v":40,"s":1},{"d":35.4,"v":47,"s":1},{"d":35.7,"v":38,"s":1},{"d":36.0,"v":45,"s":1},{"d":36.3,"v":37,"s":1},{"d":36.6,"v":43,"s":1},{"d":36.9,"v":35,"s":1},{"d":37.2,"v":41,"s":1},{"d":37.5,"v":31,"s":1},{"d":37.8,"v":40,"s":1},{"d":38.0,"v":52,"s":1},{"d":38.3,"v":63,"s":1},{"d":38.5,"v":70,"s":1},{"d":38.7,"v":77,"s":1},{"d":38.9,"v":92,"s":1},{"d":39.0,"v":80,"s":1},{"d":39.2,"v":68,"s":1},{"d":39.4,"v":61,"s":1},{"d":39.6,"v":58,"s":1},
{"d":42.3,"v":73,"s":2},{"d":42.6,"v":71,"s":2},
{"d":42.9,"v":70,"s":3},{"d":43.3,"v":75,"s":3},{"d":43.8,"v":81,"s":3},
{"d":44.9,"v":64,"s":4},{"d":45.2,"v":68,"s":4},
{"d":45.8,"v":60,"s":5},{"d":46.1,"v":63,"s":5},
{"d":46.7,"v":56,"s":6},{"d":47.0,"v":59,"s":6},
{"d":47.6,"v":55,"s":7},{"d":47.9,"v":52,"s":7},
{"d":48.2,"v":50,"s":8},{"d":48.5,"v":45,"s":8},{"d":48.8,"v":53,"s":8},{"d":49.1,"v":46,"s":8},{"d":49.4,"v":51,"s":8},{"d":49.7,"v":48,"s":8},{"d":50.0,"v":56,"s":8},{"d":50.3,"v":50,"s":8},{"d":50.6,"v":58,"s":8},{"d":50.9,"v":53,"s":8},{"d":51.2,"v":60,"s":8},{"d":51.5,"v":55,"s":8},{"d":51.8,"v":62,"s":8},{"d":52.1,"v":57,"s":8},{"d":52.4,"v":67,"s":8},{"d":52.7,"v":60,"s":8},{"d":53.0,"v":69,"s":8},{"d":53.3,"v":62,"s":8},{"d":53.6,"v":67,"s":8},{"d":53.9,"v":61,"s":8},{"d":54.2,"v":70,"s":8},{"d":54.5,"v":62,"s":8},{"d":54.8,"v":72,"s":8},{"d":55.1,"v":64,"s":8},{"d":55.4,"v":74,"s":8},{"d":55.7,"v":66,"s":8},{"d":56.0,"v":76,"s":8},{"d":56.3,"v":65,"s":8},{"d":56.6,"v":72,"s":8},{"d":56.9,"v":62,"s":8},{"d":57.2,"v":60,"s":8},{"d":57.5,"v":68,"s":8},{"d":57.8,"v":61,"s":8},{"d":58.1,"v":70,"s":8},{"d":58.4,"v":63,"s":8},{"d":58.7,"v":72,"s":8},{"d":59.0,"v":64,"s":8},{"d":59.3,"v":60,"s":8},{"d":59.6,"v":66,"s":8},{"d":59.9,"v":58,"s":8},{"d":60.2,"v":64,"s":8},{"d":60.5,"v":57,"s":8},{"d":60.8,"v":63,"s":8},{"d":61.1,"v":56,"s":8},{"d":61.4,"v":65,"s":8},{"d":61.7,"v":58,"s":8},{"d":62.0,"v":61,"s":8},{"d":62.3,"v":55,"s":8},{"d":62.6,"v":59,"s":8},{"d":62.9,"v":53,"s":8},{"d":63.2,"v":58,"s":8},{"d":63.5,"v":52,"s":8},{"d":63.8,"v":56,"s":8},
{"d":64.3,"v":42,"s":9},{"d":64.6,"v":47,"s":9},{"d":64.9,"v":40,"s":9},{"d":65.2,"v":48,"s":9},{"d":65.5,"v":44,"s":9},{"d":65.8,"v":51,"s":9},{"d":66.1,"v":46,"s":9},
{"d":66.6,"v":33,"s":10},{"d":66.9,"v":40,"s":10},{"d":67.1,"v":36,"s":10}
]
},
"hconcat": [
{
"width": 282, "height": 754,
"encoding": {
 "y": {"field": "d", "type": "quantitative", "scale": {"domain": [0, 70], "reverse": true, "nice": false, "zero": false},
  "axis": {"orient": "left", "values": [0,2.5,5,7.5,10,12.5,15,17.5,20,22.5,25,27.5,30,32.5,35,37.5,40,42.5,45,47.5,50,52.5,55,57.5,60,62.5,65,67.5,70], "labelExpr": "datum.value % 10 == 0 ? format(datum.value, 'd') : ''", "labelOverlap": false, "labelFlush": false, "labelFontSize": 25, "labelColor": "#1c2d5e", "labelPadding": 4, "tickSize": {"condition": {"test": "datum.value % 5 == 0", "value": 20}, "value": 11}, "tickColor": "#222222", "tickWidth": 1.5, "domainColor": "#111111", "domainWidth": 2, "grid": false, "title": "LOGGING DEPTH [m]", "titleFontSize": 26, "titleFontWeight": "normal", "titleColor": "#1c2d5e", "titleX": -92, "titleY": 391, "titleAngle": 270, "titleBaseline": "middle", "titleAlign": "center"}},
 "x": {"field": "v", "type": "quantitative", "scale": {"domain": [1.9, 2.432], "nice": false, "zero": false},
   "axis": {"orient": "top", "values": [1.9,2.0,2.1,2.2,2.3], "labelExpr": "indexof([1.9,2.1,2.3], datum.value) >= 0 ? format(datum.value, '.1f') : ''", "labelFlush": false, "labelOverlap": false, "labelFontSize": 25, "labelColor": "#1c2d5e", "labelPadding": 6, "tickSize": {"condition": {"test": "indexof([1.9,2.1,2.3], datum.value) >= 0", "value": 8}, "value": 4}, "tickColor": "#333333", "domainColor": "#333333", "grid": true, "gridColor": "#7a7a7a", "gridOpacity": {"condition": {"test": "indexof([1.9,2.1,2.3], datum.value) >= 0", "value": 1}, "value": 0}, "title": ["GAMMA", "DENSITY", "[g/cm³]"], "titleFontSize": 26, "titleFontWeight": "normal", "titleColor": "#1c2d5e", "titleLineHeight": 33, "titleX": 130, "titleY": -148, "titleBaseline": "top", "titleAlign": "center"}}
},
"layer": [
 {"data": {"name": "grid"}, "mark": {"type": "rule", "color": "#7a7a7a", "strokeWidth": 1},
  "transform": [{"calculate": "1.9", "as": "v"}, {"calculate": "2.3", "as": "v2"}],
  "encoding": {"x2": {"field": "v2"}}},
 {"data": {"name": "gd"}, "mark": {"type": "line", "color": "#3a7dbf", "strokeWidth": 1.4},
  "encoding": {"detail": {"field": "s", "type": "nominal"}, "order": {"field": "d", "type": "quantitative"}}},
 {"data": {"name": "bounds"}, "mark": {"type": "rule", "color": "#3b3b9c", "strokeWidth": 2, "strokeDash": [11, 7]}, "encoding": {"x": null}},
 {"data": {"name": "edge"}, "mark": {"type": "rule", "color": "#333333", "strokeWidth": 1}, "encoding": {"x": null}}
]
},
{
"width": 282, "height": 754,
"encoding": {
 "y": {"field": "d", "type": "quantitative", "scale": {"domain": [0, 70], "reverse": true, "nice": false, "zero": false}, "axis": null},
 "x": {"field": "v", "type": "quantitative", "scale": {"domain": [1550, 2082], "nice": false, "zero": false},
   "axis": {"orient": "top", "values": [1550,1650,1750,1850,1950], "labelExpr": "indexof([1550,1750,1950], datum.value) >= 0 ? format(datum.value, 'd') : ''", "labelFlush": false, "labelOverlap": false, "labelFontSize": 25, "labelColor": "#1c2d5e", "labelPadding": 6, "tickSize": {"condition": {"test": "indexof([1550,1750,1950], datum.value) >= 0", "value": 8}, "value": 4}, "tickColor": "#333333", "domainColor": "#333333", "grid": true, "gridColor": "#7a7a7a", "gridOpacity": {"condition": {"test": "indexof([1550,1750,1950], datum.value) >= 0", "value": 1}, "value": 0}, "title": ["P-WAVE", "VELOCITY", "[m/s]"], "titleFontSize": 26, "titleFontWeight": "normal", "titleColor": "#1c2d5e", "titleLineHeight": 33, "titleX": 119, "titleY": -148, "titleBaseline": "top", "titleAlign": "center"}}
},
"layer": [
 {"data": {"name": "grid"}, "mark": {"type": "rule", "color": "#7a7a7a", "strokeWidth": 1},
  "transform": [{"calculate": "1550", "as": "v"}, {"calculate": "1950", "as": "v2"}],
  "encoding": {"x2": {"field": "v2"}}},
 {"data": {"name": "pw"}, "mark": {"type": "line", "color": "#3aa53a", "strokeWidth": 1.4},
  "encoding": {"detail": {"field": "s", "type": "nominal"}, "order": {"field": "d", "type": "quantitative"}}},
 {"data": {"name": "bounds"}, "mark": {"type": "rule", "color": "#3b3b9c", "strokeWidth": 2, "strokeDash": [11, 7]}, "encoding": {"x": null}},
 {"data": {"name": "edge"}, "mark": {"type": "rule", "color": "#333333", "strokeWidth": 1}, "encoding": {"x": null}}
]
},
{
"width": 282, "height": 754,
"encoding": {
 "y": {"field": "d", "type": "quantitative", "scale": {"domain": [0, 70], "reverse": true, "nice": false, "zero": false}, "axis": null},
 "x": {"field": "v", "type": "quantitative", "scale": {"type": "log", "domain": [1, 457.6], "nice": false},
   "axis": {"orient": "top", "values": [1,2,3,4,5,6,7,8,9,10,20,30,40,50,60,70,80,90,100], "labelExpr": "indexof([1,10,100], datum.value) >= 0 ? format(datum.value, 'd') : ''", "labelFlush": false, "labelOverlap": false, "labelFontSize": 25, "labelColor": "#1c2d5e", "labelPadding": 6, "tickSize": {"condition": {"test": "indexof([1,10,100], datum.value) >= 0", "value": 8}, "value": 4}, "tickColor": "#333333", "domainColor": "#333333", "grid": true, "gridColor": "#7a7a7a", "gridOpacity": {"condition": {"test": "indexof([1,10,100], datum.value) >= 0", "value": 1}, "value": 0}, "title": ["MAGNETIC", "SUSCEPTIBILITY", "[SI x 10⁻⁵]"], "titleFontSize": 26, "titleFontWeight": "normal", "titleColor": "#1c2d5e", "titleLineHeight": 33, "titleX": 106, "titleY": -148, "titleBaseline": "top", "titleAlign": "center"}}
},
"layer": [
 {"data": {"name": "grid"}, "mark": {"type": "rule", "color": "#7a7a7a", "strokeWidth": 1},
  "transform": [{"calculate": "1", "as": "v"}, {"calculate": "100", "as": "v2"}],
  "encoding": {"x2": {"field": "v2"}}},
 {"data": {"name": "ms"}, "mark": {"type": "line", "color": "#f08a1d", "strokeWidth": 2.8},
  "encoding": {"detail": {"field": "s", "type": "nominal"}, "order": {"field": "d", "type": "quantitative"}}},
 {"data": {"name": "bounds"}, "mark": {"type": "rule", "color": "#3b3b9c", "strokeWidth": 2, "strokeDash": [11, 7]}, "encoding": {"x": null}},
 {"data": {"name": "edge"}, "mark": {"type": "rule", "color": "#333333", "strokeWidth": 1}, "encoding": {"x": null}}
]
},
{
"width": 282, "height": 754,
"encoding": {
 "y": {"field": "d", "type": "quantitative", "scale": {"domain": [0, 70], "reverse": true, "nice": false, "zero": false}, "axis": null},
 "x": {"field": "v", "type": "quantitative", "scale": {"domain": [0, 19.95], "nice": false, "zero": false},
   "axis": {"orient": "top", "values": [0,3.75,7.5,11.25,15], "labelExpr": "indexof([0,7.5,15], datum.value) >= 0 ? format(datum.value, '~g') : ''", "labelFlush": false, "labelOverlap": false, "labelFontSize": 25, "labelColor": "#1c2d5e", "labelPadding": 6, "tickSize": {"condition": {"test": "indexof([0,7.5,15], datum.value) >= 0", "value": 8}, "value": 4}, "tickColor": "#333333", "domainColor": "#333333", "grid": true, "gridColor": "#7a7a7a", "gridOpacity": {"condition": {"test": "indexof([0,7.5,15], datum.value) >= 0", "value": 1}, "value": 0}, "title": ["ELECTRICAL", "RESISTIVITY", "[ohm.m]"], "titleFontSize": 26, "titleFontWeight": "normal", "titleColor": "#1c2d5e", "titleLineHeight": 33, "titleX": 93, "titleY": -148, "titleBaseline": "top", "titleAlign": "center"}}
},
"layer": [
 {"data": {"name": "grid"}, "mark": {"type": "rule", "color": "#7a7a7a", "strokeWidth": 1},
  "transform": [{"calculate": "0", "as": "v"}, {"calculate": "15", "as": "v2"}],
  "encoding": {"x2": {"field": "v2"}}},
 {"data": {"name": "er"}, "mark": {"type": "line", "color": "#dc2029", "strokeWidth": 2.2},
  "encoding": {"detail": {"field": "s", "type": "nominal"}, "order": {"field": "d", "type": "quantitative"}}},
 {"data": {"name": "bounds"}, "mark": {"type": "rule", "color": "#3b3b9c", "strokeWidth": 2, "strokeDash": [11, 7]}, "encoding": {"x": null}},
 {"data": {"name": "edge"}, "mark": {"type": "rule", "color": "#333333", "strokeWidth": 1}, "encoding": {"x": null}}
]
},
{
"width": 212, "height": 754,
"encoding": {
 "y": {"field": "d", "type": "quantitative", "scale": {"domain": [0, 70], "reverse": true, "nice": false, "zero": false}, "axis": null},
 "x": {"field": "v", "type": "quantitative", "scale": {"domain": [0, 120], "nice": false, "zero": false},
   "axis": {"orient": "top", "values": [0,30,60,90,120], "labelExpr": "indexof([0,60,120], datum.value) >= 0 ? format(datum.value, 'd') : ''", "labelFlush": false, "labelOverlap": false, "labelFontSize": 25, "labelColor": "#1c2d5e", "labelPadding": 6, "tickSize": {"condition": {"test": "indexof([0,60,120], datum.value) >= 0", "value": 8}, "value": 4}, "tickColor": "#333333", "domainColor": "#333333", "grid": true, "gridColor": "#7a7a7a", "gridOpacity": {"condition": {"test": "indexof([0,60,120], datum.value) >= 0", "value": 1}, "value": 0}, "title": ["NATURAL", "GAMMA", "[cps]"], "titleFontSize": 26, "titleFontWeight": "normal", "titleColor": "#1c2d5e", "titleLineHeight": 33, "titleX": 80, "titleY": -148, "titleBaseline": "top", "titleAlign": "center"}}
},
"layer": [
 {"data": {"name": "grid"}, "mark": {"type": "rule", "color": "#7a7a7a", "strokeWidth": 1},
  "transform": [{"calculate": "0", "as": "v"}, {"calculate": "120", "as": "v2"}],
  "encoding": {"x2": {"field": "v2"}}},
 {"data": {"name": "ng"}, "mark": {"type": "line", "color": "#111111", "strokeWidth": 2.3},
  "encoding": {"detail": {"field": "s", "type": "nominal"}, "order": {"field": "d", "type": "quantitative"}}},
 {"data": {"name": "bounds"}, "mark": {"type": "rule", "color": "#3b3b9c", "strokeWidth": 2, "strokeDash": [11, 7]}, "encoding": {"x": null}},
 {"data": {"name": "edge"}, "mark": {"type": "rule", "color": "#333333", "strokeWidth": 1}, "encoding": {"x": null}}
]
},
{
"width": 46, "height": 754,
"data": {"name": "units"},
"transform": [{"calculate": "(datum.t + datum.b) / 2", "as": "m"}],
"encoding": {
 "y": {"field": "t", "type": "quantitative", "scale": {"domain": [0, 70], "reverse": true, "nice": false, "zero": false},
   "axis": {"orient": "right", "labels": false, "ticks": false, "domain": false, "grid": false, "title": "UNITS", "titleFontSize": 27, "titleFontWeight": "normal", "titleColor": "#1c2d5e", "titleAngle": 270, "titleX": 37, "titleY": 377, "titleBaseline": "middle", "titleAlign": "center"}},
 "x": {"datum": 0, "type": "quantitative", "scale": {"domain": [0, 1], "nice": false}, "axis": null}
},
"layer": [
 {"mark": {"type": "rect", "stroke": "#3a3a3a", "strokeWidth": 1},
  "encoding": {
   "y2": {"field": "b"},
   "x2": {"datum": 1},
   "color": {"field": "u", "type": "nominal", "scale": {"domain": ["Ia","Ib","IIa","IIb","IIc","IId","IIe"], "range": ["#d9bd1e","#a68f2d","#f8bb6b","#f5a75b","#f08e46","#e96b2b","#c8592c"]}, "legend": null}}},
 {"mark": {"type": "text", "angle": 270, "fontSize": 19, "color": "#1c2d5e", "align": "center", "baseline": "middle", "font": "Liberation Sans"},
  "encoding": {
   "y": {"field": "m", "type": "quantitative"},
   "x": {"datum": 0.5, "type": "quantitative"},
   "text": {"field": "u"}}}
]
}
]
}
